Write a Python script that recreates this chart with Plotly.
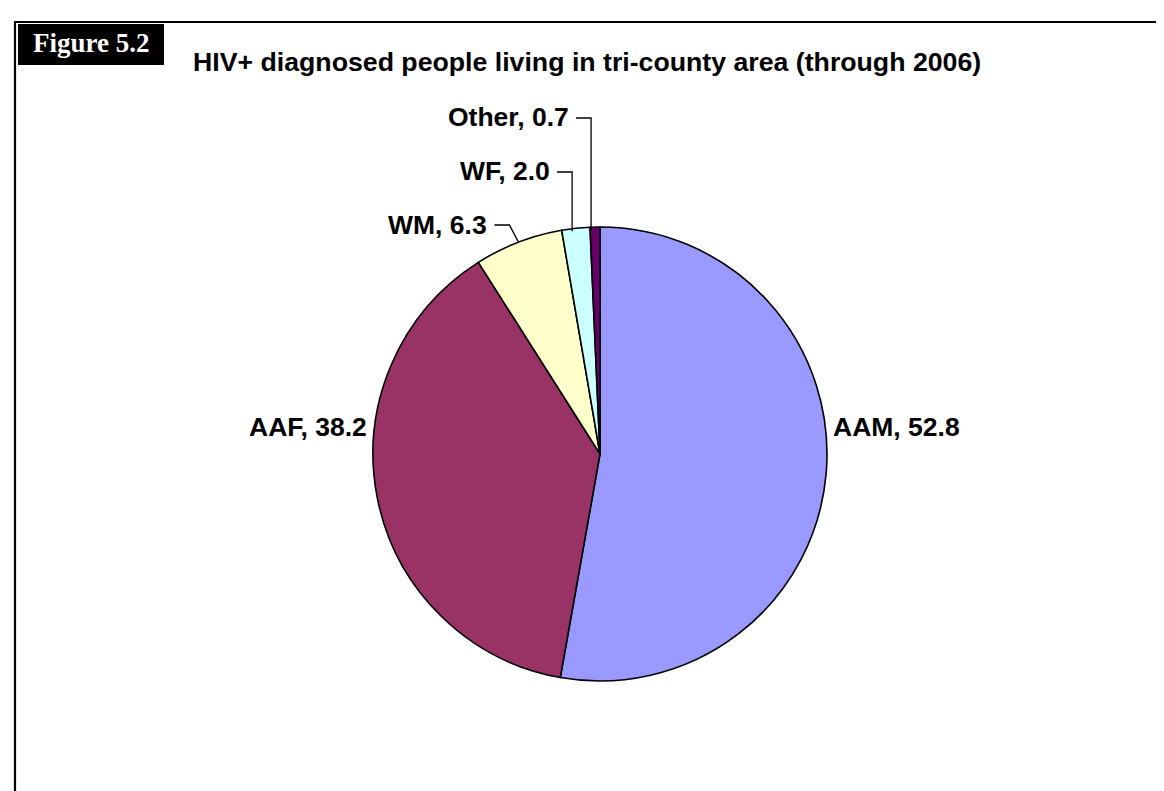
import math
import plotly.graph_objects as go

# ---- data ----
categories = ["AAM", "AAF", "WM", "WF", "Other"]
values = [52.8, 38.2, 6.3, 2.0, 0.7]
colors = ["#9999FF", "#993366", "#FFFFCC", "#CCFFFF", "#660066"]
title_text = "HIV+ diagnosed people living in tri-county area (through 2006)"
figure_tag = "Figure 5.2"

# ---- layout geometry (px) ----
W, H = 1164, 791
cx, cy, R = 592, 446, 227
LABEL_SIZE = 26.5

def fx(x):
    return x / W

def fy(y):
    return 1 - y / H

dom_x = [fx(cx - R), fx(cx + R)]
dom_y = [fy(cy + R), fy(cy - R)]

fig = go.Figure(go.Pie(
    labels=categories, values=values, sort=False, direction="clockwise",
    rotation=0, marker=dict(colors=colors, line=dict(color="black", width=1.6)),
    textinfo="none", hoverinfo="label+value", showlegend=False,
    domain=dict(x=dom_x, y=dom_y),
))

# mid-angles of slices (clockwise from 12 o'clock)
total = sum(values)
mids = []
acc = 0
for v in values:
    mids.append((acc + v / 2) / total * 360)
    acc += v

def edge(theta, r=R):
    t = math.radians(theta)
    return cx + r * math.sin(t), cy - r * math.cos(t)

font = dict(family="Liberation Sans, Arial", size=LABEL_SIZE, color="black")
lw = dict(color="black", width=1.3)
shapes = []
annotations = []

side_dy = -27  # side labels sit slightly above the pie centre
for i, (lab, v) in enumerate(zip(categories, values)):
    text = f"<b>{lab}, {v:.1f}</b>"
    th = mids[i]
    ex, ey = edge(th)
    if lab == "AAM":
        yy = cy + side_dy
        xe = cx + math.sqrt(R ** 2 - side_dy ** 2)
        annotations.append(dict(x=fx(xe + 6), y=fy(yy), text=text, showarrow=False,
                                xanchor="left", yanchor="middle", font=font))
    elif lab == "AAF":
        yy = cy + side_dy
        xe = cx - math.sqrt(R ** 2 - side_dy ** 2)
        annotations.append(dict(x=fx(xe - 6), y=fy(yy), text=text, showarrow=False,
                                xanchor="right", yanchor="middle", font=font))
    else:
        tier = {"WM": 0, "WF": 1, "Other": 2}[lab]
        ly = cy - R - 2 - tier * 54
        if lab == "WM":
            ex2, ey2 = edge(th)
            kx = ex2 - 9
            path = f"M {fx(kx - 15)} {fy(ly)} L {fx(kx)} {fy(ly)} L {fx(ex2)} {fy(ey2)}"
            tx = kx - 20
        else:
            ex2, ey2 = edge(th, R - 3)
            kx = ex2 - 4
            path = f"M {fx(kx - 15)} {fy(ly + 1)} L {fx(kx)} {fy(ly + 1)} L {fx(kx)} {fy(ey2)}"
            tx = kx - 20
        shapes.append(dict(type="path", xref="paper", yref="paper", path=path, line=lw))
        annotations.append(dict(x=fx(tx), y=fy(ly), text=text, showarrow=False,
                                xanchor="right", yanchor="middle", font=font))

# title
annotations.append(dict(x=fx(183), y=fy(54), text=f"<b>{title_text}</b>", showarrow=False,
                        xanchor="left", yanchor="middle",
                        font=dict(family="Liberation Sans, Arial", size=26.7, color="black")))
# figure tag box
shapes.append(dict(type="rect", xref="paper", yref="paper", x0=fx(10), x1=fx(156), y0=fy(57), y1=fy(16),
                   fillcolor="black", line=dict(color="black", width=0)))
annotations.append(dict(x=fx(83), y=fy(35), text=f"<b>{figure_tag}</b>", showarrow=False,
                        xanchor="center", yanchor="middle",
                        font=dict(family="Liberation Serif, Times New Roman", size=27, color="white")))
# outer frame lines (top and left)
shapes.append(dict(type="line", xref="paper", yref="paper", x0=fx(6), x1=1, y0=fy(14), y1=fy(14),
                   line=dict(color="black", width=2.2)))
shapes.append(dict(type="line", xref="paper", yref="paper", x0=fx(7), x1=fx(7), y0=fy(14), y1=0,
                   line=dict(color="black", width=2.2)))

fig.update_layout(width=W, height=H, margin=dict(l=0, r=0, t=0, b=0),
                  paper_bgcolor="white", plot_bgcolor="white",
                  shapes=shapes, annotations=annotations)
fig.write_html("out.html")
